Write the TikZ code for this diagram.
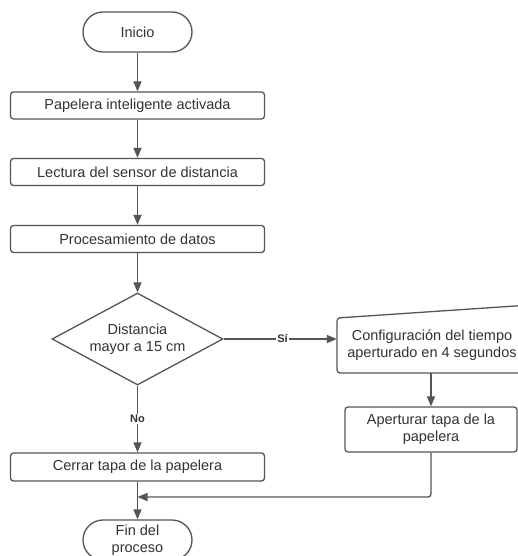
\documentclass[tikz,border=0pt]{standalone}
\usepackage{fontspec}
\setmainfont{Liberation Sans}
\usetikzlibrary{shapes.geometric,arrows.meta,calc}
\definecolor{ln}{HTML}{555555}
\definecolor{tx}{HTML}{333333}
\begin{document}
\begin{tikzpicture}[x=1pt,y=-1pt,
  every node/.style={font=\fontsize{14.5}{17}\selectfont, text=tx},
  procbox/.style={draw=ln, line width=1.3pt, rounded corners=3pt, minimum height=27pt, inner sep=0pt, align=center},
  termbox/.style={draw=ln, line width=1.3pt, rounded corners=20pt, minimum width=109pt, minimum height=40pt, inner sep=0pt, align=center},
  decbox/.style={draw=ln, line width=1.3pt, diamond, shape aspect=1.86, minimum width=171pt, minimum height=92pt, inner sep=0pt, align=center},
  flow/.style={draw=ln, line width=1.3pt, -{Triangle[width=8pt,length=10pt]}},
  lbl/.style={font=\fontsize{11}{12}\bfseries, fill=white, inner sep=1pt}
]
\useasboundingbox (0,0) rectangle (518,556);
\fill[white] (0,0) rectangle (518,556);
\clip (0,0) rectangle (518,556);

\node[termbox] (inicio) at (137.5,32) {Inicio};
\node[procbox, minimum width=254pt] (pap) at (137.5,105.5) {Papelera inteligente activada};
\node[procbox, minimum width=254pt] (lect) at (137.5,172) {Lectura del sensor de distancia};
\node[procbox, minimum width=254pt] (proc) at (137.5,239) {Procesamiento de datos};
\node[decbox] (dia) at (137.5,339) {Distancia\\mayor a 15 cm};

% manual input shape (cut off at the right edge)
\node[minimum width=190pt, minimum height=55pt, inner sep=0pt] (conf) at (432,345.5) {};
\draw[ln, line width=1.3pt, rounded corners=3pt] (337,318) -- (530,305) -- (530,373) -- (337,373) -- cycle;
\node[align=center] (conftxt) at (432,345) {Configuración del tiempo\\aperturado en 4 segundos};

\node[procbox, minimum width=172pt, minimum height=45pt] (ap) at (431,429.5) {Aperturar tapa de la\\papelera};
\node[procbox, minimum width=254pt, minimum height=28pt] (cer) at (137.5,467) {Cerrar tapa de la papelera};
\node[termbox] (fin) at (137.5,540) {Fin del\\proceso};

\draw[flow] (inicio) -- (pap);
\draw[flow] (pap) -- (lect);
\draw[flow] (lect) -- (proc);
\draw[flow] (proc) -- (dia);
\draw[flow] (dia.east) -- node[lbl, pos=0.52] {Sí} (conf.west |- dia.east);
\draw[flow] (dia.south) -- node[lbl, pos=0.5] {No} (cer.north);
\draw[flow] (conf.south -| ap.north) -- (ap.north);
\draw[flow] (cer) -- (fin);
\coordinate (merge) at (137.5,497);
\draw[flow, rounded corners=3pt] (ap.south) -- (ap.south |- merge) -- (merge);
\end{tikzpicture}
\end{document}
